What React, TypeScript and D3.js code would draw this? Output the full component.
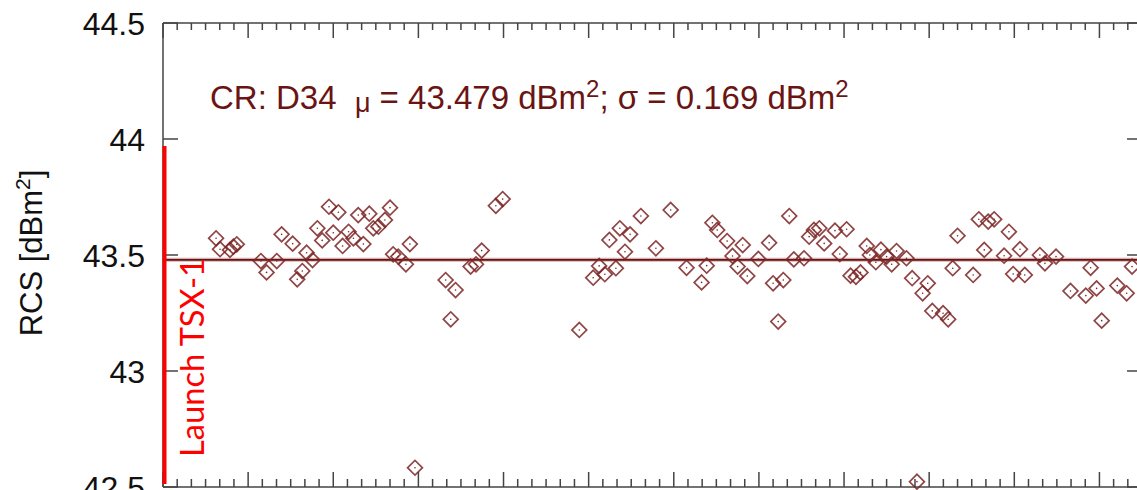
import React from 'react'
import * as d3 from 'd3'

// days after launch (x) and measured RCS in dBm^2 (y)
const days = [
  18.7, 20.1, 23.6, 24.8, 26.0, 34.5, 36.5, 40.1, 41.8, 45.7,
  47.3, 49.1, 50.6, 52.7, 54.4, 56.1, 58.5, 60.0, 61.8, 63.3,
  65.4, 67.1, 68.8, 70.6, 72.7, 74.1, 75.9, 78.2, 80.0, 81.1,
  82.9, 85.6, 87.0, 88.8, 99.6, 101.4, 103.1, 108.4, 110.3, 112.3,
  117.3, 119.7, 146.7, 151.6, 153.7, 155.7, 157.3, 159.6, 161.0, 162.8,
  164.6, 168.4, 173.7, 178.9, 184.5, 189.8, 191.6, 193.6, 195.3, 198.8,
  200.7, 202.5, 204.3, 205.9, 209.8, 213.6, 215.0, 216.8, 218.6, 220.7,
  222.3, 225.9, 227.7, 229.4, 231.3, 233.0, 236.8, 238.5, 240.9, 242.3,
  244.2, 245.8, 248.0, 249.1, 251.2, 253.0, 255.0, 256.8, 258.5, 262.0,
  264.0, 265.7, 267.7, 269.5, 271.1, 274.9, 276.7, 278.3, 280.0, 285.5,
  287.5, 289.4, 290.8, 292.9, 296.4, 298.1, 299.6, 302.0, 303.7, 309.0,
  310.8, 314.7, 319.8, 325.2, 326.9, 329.0, 330.8, 336.3, 339.6, 341.5,
]
const rcs = [
  43.572, 43.525, 43.522, 43.536, 43.546, 43.474, 43.425, 43.474, 43.589, 43.549,
  43.395, 43.431, 43.510, 43.478, 43.615, 43.563, 43.708, 43.596, 43.684, 43.539,
  43.600, 43.572, 43.672, 43.547, 43.678, 43.615, 43.622, 43.651, 43.704, 43.503,
  43.493, 43.460, 43.547, 42.583, 43.392, 43.223, 43.349, 43.450, 43.460, 43.519,
  43.712, 43.741, 43.177, 43.402, 43.453, 43.417, 43.565, 43.443, 43.615, 43.514,
  43.589, 43.668, 43.529, 43.694, 43.445, 43.382, 43.454, 43.639, 43.608, 43.560,
  43.496, 43.450, 43.543, 43.409, 43.483, 43.553, 43.378, 43.213, 43.392, 43.668,
  43.481, 43.486, 43.579, 43.608, 43.615, 43.550, 43.605, 43.504, 43.611, 43.411,
  43.406, 43.425, 43.539, 43.500, 43.469, 43.523, 43.493, 43.460, 43.517, 43.486,
  43.400, 42.523, 43.335, 43.378, 43.259, 43.249, 43.223, 43.443, 43.583, 43.414,
  43.654, 43.522, 43.644, 43.654, 43.497, 43.600, 43.418, 43.525, 43.414, 43.500,
  43.464, 43.493, 43.345, 43.325, 43.445, 43.356, 43.217, 43.368, 43.335, 43.450,
]
const meanRcs = 43.479
const sigmaRcs = 0.169
const yTicks = [42.5, 43, 43.5, 44, 44.5]
const yTickLabels = ['42.5', '43', '43.5', '44', '44.5']
const launchDay = 0
const launchTop = 43.97

const W = 1137
const H = 490
const left = 163
const right = 1142
const top = 23
const bottom = 487
const font = 'Liberation Sans, Arial, sans-serif'
const axisColor = '#444'
const markColor = '#7b2424'

export default function App() {
  const x = d3.scaleLinear().domain([0, 345]).range([left, right])
  const y = d3.scaleLinear().domain([42.5, 44.5]).range([bottom, top])
  const majorX = d3.range(0, 346, 30)
  const minorX = d3.range(0, 346, 5).filter(d => d % 30 !== 0)
  const diamond = d3.symbol().type(d3.symbolSquare).size(110)()

  return (
    <svg width={W} height={H} style={{ position: 'absolute', left: 0, top: 0, background: '#fff' }}>
      {/* frame */}
      <g stroke={axisColor} strokeWidth={1.5} fill="none">
        <line x1={left} x2={right} y1={top} y2={top} />
        <line x1={left} x2={right} y1={bottom} y2={bottom} />
        <line x1={left} x2={left} y1={top} y2={bottom} />
        <line x1={right} x2={right} y1={top} y2={bottom} />
        {majorX.map(d => (
          <g key={'M' + d}>
            <line x1={x(d)} x2={x(d)} y1={top} y2={top + 15} />
            <line x1={x(d)} x2={x(d)} y1={bottom} y2={bottom - 15} />
          </g>
        ))}
        {minorX.map(d => (
          <g key={'m' + d}>
            <line x1={x(d)} x2={x(d)} y1={top} y2={top + 7} />
            <line x1={x(d)} x2={x(d)} y1={bottom} y2={bottom - 8} />
          </g>
        ))}
        {yTicks.map(d => (
          <g key={'y' + d}>
            <line x1={left} x2={left + 15} y1={y(d)} y2={y(d)} />
            <line x1={right} x2={right - 15} y1={y(d)} y2={y(d)} />
          </g>
        ))}
      </g>
      {yTicks.map((d, i) => (
        <text key={'t' + d} x={145} y={y(d) + 12} textAnchor="end"
          fontFamily={font} fontSize={32} fill="#111">{yTickLabels[i]}</text>
      ))}
      <text transform={`translate(42,${(top + bottom) / 2 - 2}) rotate(-90)`} textAnchor="middle"
        fontFamily={font} fontSize={31} fill="#111">
        RCS [dBm<tspan fontSize={21} dy={-12}>2</tspan><tspan dy={12}>]</tspan>
      </text>

      {/* mean line */}
      <line x1={left} x2={right} y1={y(meanRcs)} y2={y(meanRcs)} stroke="#7a1f1f" strokeOpacity={0.35} strokeWidth={4} />
      <line x1={left} x2={right} y1={y(meanRcs)} y2={y(meanRcs)} stroke="#6b1212" strokeWidth={1.8} />

      {/* measurements */}
      {days.map((d, i) => (
        <g key={i} transform={`translate(${x(d)},${y(rcs[i])})`}>
          <path d={diamond} transform="rotate(45)" fill="none" stroke={markColor} strokeOpacity={0.85} strokeWidth={1.7} />
          <circle r={0.8} fill={markColor} />
        </g>
      ))}

      {/* launch marker */}
      <line x1={x(launchDay) + 1.5} x2={x(launchDay) + 1.5} y1={y(launchTop)} y2={bottom - 3} stroke="#ff0000" strokeWidth={4} />
      <text transform={`translate(204,457) rotate(-90)`} fontFamily="Lato, 'Open Sans', sans-serif" fontSize={32}
        fill="#ff0000" textLength={199} lengthAdjust="spacingAndGlyphs">Launch TSX-1</text>

      <text x={210} y={109} fontFamily={font} fontSize={33} fill="#6b1414">
        CR: D34{'\u00a0\u00a0'}<tspan fontSize={27} dy={3}>μ</tspan><tspan dy={-3}> = {meanRcs.toFixed(3)} dBm</tspan>
        <tspan fontSize={24} dy={-12}>2</tspan><tspan dy={12}>; σ = {sigmaRcs.toFixed(3)} dBm</tspan>
        <tspan fontSize={24} dy={-12}>2</tspan>
      </text>
    </svg>
  )
}
